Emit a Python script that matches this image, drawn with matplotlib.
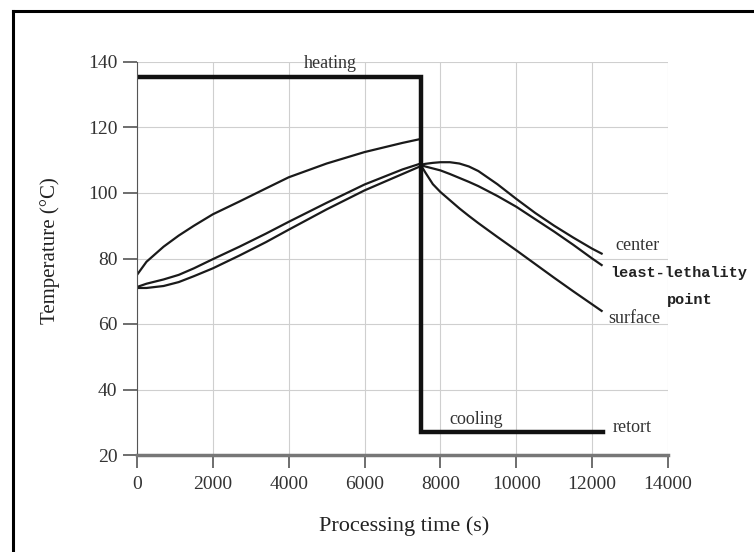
import matplotlib.pyplot as plt
from matplotlib.lines import Line2D

plt.rcParams['font.family'] = ['Liberation Serif', 'DejaVu Serif']

# retort temperature profile
retort_t = [0, 7480, 7480, 12290]
retort_T = [135.3, 135.3, 26.9, 26.9]

# heating phase (s, degC)
heat_t = [0, 250, 700, 1100, 1500, 2000, 2700, 3400, 4000, 5000, 6000, 7000, 7480]
heat_surface = [75.0, 79.0, 83.6, 87.0, 90.0, 93.5, 97.4, 101.4, 104.8, 109.0, 112.5, 115.3, 116.5]
heat_llp = [71.3, 72.3, 73.6, 75.0, 77.0, 79.8, 83.6, 87.6, 91.2, 97.0, 102.6, 107.2, 109.0]
heat_center = [71.0, 71.0, 71.6, 72.8, 74.6, 77.0, 80.9, 85.0, 88.8, 95.0, 100.8, 105.8, 108.2]

# cooling phase
cool_t = [7480, 7600, 7800, 8000, 8250, 8500, 8750, 9000, 9500, 10000, 10500, 11000, 11500, 12000, 12250]
cool_center = [108.6, 108.9, 109.2, 109.4, 109.4, 109.0, 108.1, 106.7, 102.7, 98.2, 93.9, 90.0, 86.4, 83.0, 81.5]
cool_llp = [108.6, 108.1, 107.5, 106.9, 105.8, 104.6, 103.4, 102.1, 99.1, 95.8, 92.0, 88.2, 84.2, 80.0, 78.0]
cool_surface = [108.6, 106.3, 102.7, 100.3, 97.8, 95.3, 93.0, 90.8, 86.6, 82.5, 78.3, 74.1, 70.0, 66.0, 64.0]

fig = plt.figure(figsize=(7.54, 5.52), dpi=100)
ax = fig.add_axes([137 / 754, 1 - 455 / 552, 531 / 754, 393 / 552])

ax.grid(True, color='#cfcfcf', lw=0.8)
ax.set_axisbelow(True)

for y in (heat_surface, heat_llp, heat_center):
    ax.plot(heat_t, y, color='#1a1a1a', lw=1.6)
for y in (cool_center, cool_llp, cool_surface):
    ax.plot(cool_t, y, color='#1a1a1a', lw=1.6)
ax.plot(retort_t, retort_T, color='#111111', lw=3.2, solid_joinstyle='miter')

ax.set_xlim(0, 14000)
ax.set_ylim(20, 140)
ax.set_xticks(range(0, 14001, 2000))
ax.set_yticks(range(20, 141, 20))

for s in ('top', 'right'):
    ax.spines[s].set_visible(False)
ax.spines['left'].set_color('#555555')
ax.spines['bottom'].set_color('#777777')
ax.spines['bottom'].set_linewidth(2.5)

ax.tick_params(axis='y', direction='out', length=10, width=1.2, colors='#555555',
               labelcolor='#333333', labelsize=14, pad=4)
ax.tick_params(axis='x', direction='out', length=9, width=1.2, colors='#555555',
               labelcolor='#333333', labelsize=14, pad=6)

ax.set_xlabel('Processing time (s)', fontsize=16, color='#222222')
ax.set_ylabel('Temperature (°C)', fontsize=15, color='#222222')
ax.xaxis.set_label_coords(0.503, -0.155)
ax.yaxis.set_label_coords(-0.145, 0.52)

txt = dict(color='#333333', fontsize=13, ha='center', va='center')
ax.text(5090, 139.5, 'heating', **txt)
ax.text(8940, 30.7, 'cooling', **txt)
ax.text(13050, 28.3, 'retort', **txt)
ax.text(13190, 84.1, 'center', **txt)
ax.text(13120, 61.8, 'surface', **txt)
ax.text(14290, 75.6, 'least-lethality', fontsize=11, fontweight='bold',
        family='Liberation Mono', ha='center', va='center', color='#222222')
ax.text(14580, 67.3, 'point', fontsize=11, fontweight='bold',
        family='Liberation Mono', ha='center', va='center', color='#222222')

# outer frame (left and top edges of the scanned figure)
fig.add_artist(Line2D([13 / 754, 13 / 754], [0, 1 - 11 / 552], color='black', lw=2.2))
fig.add_artist(Line2D([13 / 754, 1], [1 - 11 / 552, 1 - 11 / 552], color='black', lw=2.2))

fig.savefig('out.png', dpi=100)
